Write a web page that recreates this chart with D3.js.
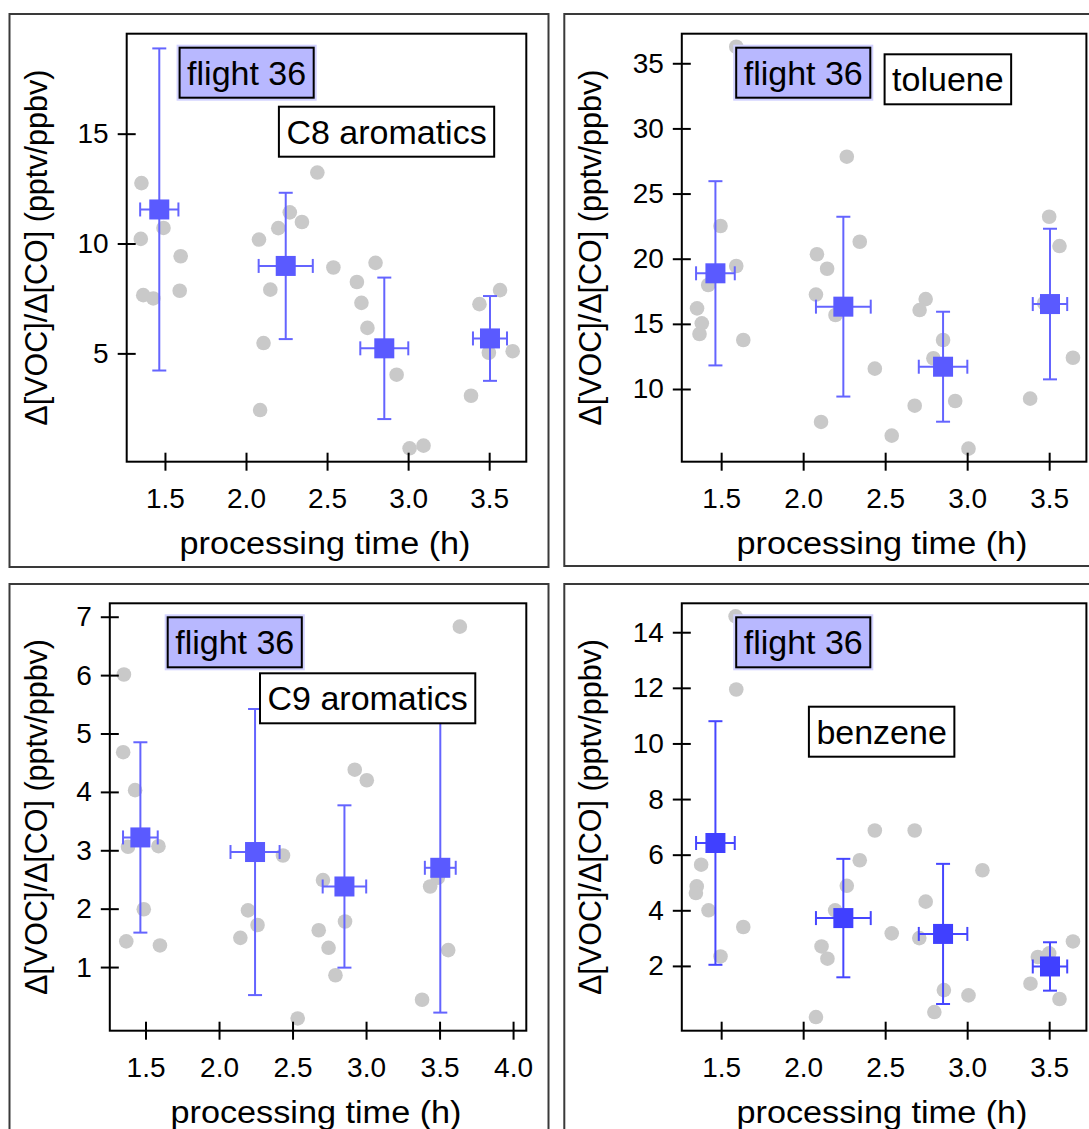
<!DOCTYPE html>
<html>
<head>
<meta charset="utf-8">
<script src="https://cdn.jsdelivr.net/npm/d3@7"></script>
<style>
  html, body { margin: 0; padding: 0; background: #ffffff; }
  svg { display: block; }
</style>
</head>
<body>
<svg id="chart" width="1089" height="1129"></svg>
<script>
// ---------- data ----------
const meanTime = [1.465, 2.245, 2.853, 3.505];
const meanTimeErr = [0.118, 0.167, 0.148, 0.105];

const c8Time  = [1.355,1.351,1.491,1.597,2.44,2.27,2.345,2.199,2.08,2.539,2.799,2.684,1.366,1.428,1.591,2.15,2.108,2.087,2.712,2.749,2.929,3.009,3.095,3.44,3.567,3.498,3.645,3.388];
const c8Ratio = [12.75,10.21,10.71,9.42,13.23,11.42,10.98,10.70,10.18,8.91,9.12,8.25,7.65,7.5,7.85,7.9,5.47,2.42,7.3,6.16,4.03,0.68,0.8,7.24,7.88,5.03,5.1,3.07];
const c8Mean = [11.55, 8.98, 5.23, 5.68];
const c8Err  = [7.33, 3.33, 3.22, 1.93];

const tolTime  = [1.592,2.266,1.496,2.345,2.084,1.592,2.146,3.5,3.563,1.421,2.078,2.747,1.353,1.382,1.368,1.635,2.71,2.197,2.853,2.794,2.437,3.645,3.384,2.927,2.68,2.109,2.54,3.008,3.47];
const tolRatio = [36.27,27.83,22.51,21.3,20.34,19.44,19.23,23.22,20.97,17.98,17.25,16.9,16.19,15.04,14.22,13.76,16.06,15.68,13.76,12.36,11.56,12.4,9.26,9.08,8.72,7.47,6.42,5.42,16.6];
const tolMean = [18.88, 16.32, 11.71, 16.52];
const tolErr  = [7.07, 6.9, 4.22, 5.78];

const c9Time  = [3.638,1.353,2.34,1.348,1.429,2.923,3.005,1.381,1.588,2.435,2.707,3.436,3.488,1.488,2.197,2.262,2.857,2.678,2.145,1.369,1.598,2.745,3.559,2.792,3.381,2.535];
const c9Ratio = [6.83,6.01,5.68,4.68,4.03,4.38,4.2,3.06,3.07,2.91,2.49,2.38,2.53,1.99,1.97,1.72,1.78,1.63,1.5,1.44,1.37,1.33,1.29,0.86,0.44,0.12];
const c9Mean = [3.22, 2.97, 2.38, 2.70];
const c9Err  = [1.63, 2.45, 1.39, 2.48];

const bzTime  = [1.588,1.592,2.437,2.68,2.345,1.378,1.351,1.346,1.423,1.635,1.496,2.266,2.195,2.112,2.148,2.078,2.54,2.747,2.708,3.093,2.858,3.008,2.8,3.645,3.431,3.386,3.563,3.5];
const bzRatio = [14.57,11.94,6.87,6.87,5.8,5.64,4.86,4.62,4.0,3.4,2.34,4.88,4.0,2.7,2.26,0.16,3.17,4.31,3.0,5.44,1.13,0.94,0.34,2.88,2.32,1.36,0.81,2.45];
const bzMean = [6.42, 3.72, 3.15, 1.98];
const bzErr  = [4.38, 2.13, 2.52, 0.87];

const timeTicks   = [1.5, 2.0, 2.5, 3.0, 3.5];
const timeTicksC9 = [1.5, 2.0, 2.5, 3.0, 3.5, 4.0];
const c8Ticks  = [5, 10, 15];
const tolTicks = [10, 15, 20, 25, 30, 35];
const c9Ticks  = [1, 2, 3, 4, 5, 6, 7];
const bzTicks  = [2, 4, 6, 8, 10, 12, 14];

const flightLabel = "flight 36";
const xTitle = "processing time (h)";
const yTitle = "Δ[VOC]/Δ[CO] (pptv/ppbv)";

// ---------- drawing ----------
const FONT = "'Liberation Sans', Arial, sans-serif";
const svg = d3.select("#chart");

function drawPanel(p) {
  // outer panel frame
  svg.append("rect")
    .attr("x", p.frame[0]).attr("y", p.frame[1])
    .attr("width", p.frame[2]).attr("height", p.frame[3])
    .attr("fill", "none").attr("stroke", "#3a3a3a").attr("stroke-width", 2);

  const x = d3.scaleLinear().domain(p.xDomain).range([p.left, p.right]);
  const y = d3.scaleLinear().domain(p.yDomain).range([p.bottom, p.top]);
  const g = svg.append("g");

  // gray points
  g.append("g").selectAll("circle")
    .data(p.ptX.map((d, i) => [d, p.ptY[i]]))
    .join("circle")
    .attr("cx", d => x(d[0])).attr("cy", d => y(d[1]))
    .attr("r", 7.3).attr("fill", "#c9c9c9");

  // error bars
  const means = meanTime.map((t, i) => ({t, te: meanTimeErr[i], v: p.mean[i], ve: p.err[i]}));
  const eb = g.append("g").attr("stroke", p.barColor).attr("stroke-width", 2).attr("fill", "none");
  const cap = 7;
  means.forEach(m => {
    const cx = x(m.t), cy = y(m.v);
    const yt = y(m.v + m.ve), yb = y(m.v - m.ve);
    const xl = x(m.t - m.te), xr = x(m.t + m.te);
    eb.append("line").attr("x1", cx).attr("x2", cx).attr("y1", yt).attr("y2", yb);
    eb.append("line").attr("x1", cx - cap).attr("x2", cx + cap).attr("y1", yt).attr("y2", yt);
    eb.append("line").attr("x1", cx - cap).attr("x2", cx + cap).attr("y1", yb).attr("y2", yb);
    eb.append("line").attr("x1", xl).attr("x2", xr).attr("y1", cy).attr("y2", cy);
    eb.append("line").attr("x1", xl).attr("x2", xl).attr("y1", cy - cap).attr("y2", cy + cap);
    eb.append("line").attr("x1", xr).attr("x2", xr).attr("y1", cy - cap).attr("y2", cy + cap);
  });
  const sq = 20;
  g.append("g").selectAll("rect")
    .data(means).join("rect")
    .attr("x", d => x(d.t) - sq / 2).attr("y", d => y(d.v) - sq / 2)
    .attr("width", sq).attr("height", sq)
    .attr("fill", p.squareColor);

  // axes
  const yAxis = d3.axisLeft(y).tickValues(p.yTicks).tickFormat(d3.format("d"))
    .tickSize(9).tickPadding(9);
  const ya = svg.append("g").attr("transform", `translate(${p.left},0)`).call(yAxis);
  ya.select(".domain").remove();
  ya.selectAll(".tick line").attr("x1", 9).attr("x2", -9).attr("stroke", "#000").attr("stroke-width", 2);
  ya.selectAll(".tick text").attr("font-family", FONT).attr("font-size", 28).attr("fill", "#000");

  const xAxis = d3.axisBottom(x).tickValues(p.xTicks).tickFormat(d3.format(".1f"))
    .tickSize(9).tickPadding(17);
  const xa = svg.append("g").attr("transform", `translate(0,${p.bottom})`).call(xAxis);
  xa.select(".domain").remove();
  xa.selectAll(".tick line").attr("y1", -9).attr("y2", 9).attr("stroke", "#000").attr("stroke-width", 2);
  xa.selectAll(".tick text").attr("font-family", FONT).attr("font-size", 28).attr("fill", "#000");

  // plot frame
  svg.append("rect")
    .attr("x", p.left).attr("y", p.top)
    .attr("width", p.right - p.left).attr("height", p.bottom - p.top)
    .attr("fill", "none").attr("stroke", "#000").attr("stroke-width", 2);

  // axis titles
  svg.append("text")
    .attr("x", p.xTitleX).attr("y", p.bottom + 92)
    .attr("text-anchor", "middle")
    .attr("font-family", FONT).attr("font-size", 31)
    .attr("textLength", 291).attr("lengthAdjust", "spacingAndGlyphs")
    .text(xTitle);
  svg.append("text")
    .attr("transform", `translate(${p.yTitleX},${(p.top + p.bottom) / 2}) rotate(-90)`)
    .attr("text-anchor", "middle")
    .attr("font-family", FONT).attr("font-size", 30.5)
    .text(yTitle);

  // legend boxes
  function box(bx, by, label, fill, halo) {
    const t = svg.append("text")
      .attr("font-family", FONT).attr("font-size", 34)
      .attr("x", bx + 7.5).attr("y", by + 37)
      .text(label);
    const w = t.node().getComputedTextLength() + 15;
    const h = 50;
    if (halo) {
      svg.insert("rect", () => t.node())
        .attr("x", bx - 3).attr("y", by - 3).attr("width", w + 6).attr("height", h + 6)
        .attr("fill", "#d2d2ff");
    }
    svg.insert("rect", () => t.node())
      .attr("x", bx).attr("y", by).attr("width", w).attr("height", h)
      .attr("fill", fill).attr("stroke", "#000").attr("stroke-width", 2);
  }
  box(p.flightBox[0], p.flightBox[1], flightLabel, "#b8b8ff", true);
  box(p.nameBox[0], p.nameBox[1], p.name, "#ffffff", false);
}

drawPanel({
  name: "C8 aromatics",
  frame: [9.5, 14, 539, 553],
  left: 126.7, right: 526.3, top: 33.7, bottom: 461.7,
  xDomain: [1.264, 3.729], yDomain: [0.07, 19.55],
  xTicks: timeTicks, yTicks: c8Ticks,
  ptX: c8Time, ptY: c8Ratio, mean: c8Mean, err: c8Err,
  barColor: "#6464ff", squareColor: "#5a5aff",
  xTitleX: 325, yTitleX: 47,
  flightBox: [179.6, 47.7], nameBox: [278.9, 106.7]
});

drawPanel({
  name: "toluene",
  frame: [564.3, 14, 560, 552],
  left: 681.8, right: 1086.4, top: 33.7, bottom: 461.7,
  xDomain: [1.26, 3.727], yDomain: [4.42, 37.27],
  xTicks: timeTicks, yTicks: tolTicks,
  ptX: tolTime, ptY: tolRatio, mean: tolMean, err: tolErr,
  barColor: "#6464ff", squareColor: "#5a5aff",
  xTitleX: 882, yTitleX: 601,
  flightBox: [736.2, 47.7], nameBox: [884.6, 54.3]
});

drawPanel({
  name: "C9 aromatics",
  frame: [9.5, 584, 539, 600],
  left: 109.8, right: 526.3, top: 603.3, bottom: 1030.7,
  xDomain: [1.257, 4.09], yDomain: [-0.09, 7.23],
  xTicks: timeTicksC9, yTicks: c9Ticks,
  ptX: c9Time, ptY: c9Ratio, mean: c9Mean, err: c9Err,
  barColor: "#6464ff", squareColor: "#5a5aff",
  xTitleX: 316, yTitleX: 47,
  flightBox: [167.7, 617.3], nameBox: [260, 673.3]
});

drawPanel({
  name: "benzene",
  frame: [564.3, 584, 560, 600],
  left: 681.8, right: 1086.4, top: 603.3, bottom: 1030.7,
  xDomain: [1.26, 3.727], yDomain: [-0.33, 15.04],
  xTicks: timeTicks, yTicks: bzTicks,
  ptX: bzTime, ptY: bzRatio, mean: bzMean, err: bzErr,
  barColor: "#4646ff", squareColor: "#4040ff",
  xTitleX: 882, yTitleX: 601,
  flightBox: [736.2, 617.3], nameBox: [808.9, 706.7]
});
</script>
</body>
</html>
